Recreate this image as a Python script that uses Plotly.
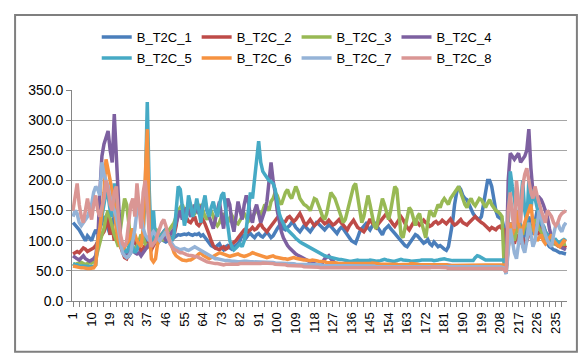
import plotly.graph_objects as go

categories = list(range(1, 241))
tick_labels = list(range(1, 241, 9))

s1 = [130,125,122,118,112,105,100,108,104,100,
      110,118,112,120,130,140,135,120,110,128,
      140,125,110,100,90,82,78,75,80,95,
      100,92,88,95,100,105,98,95,100,102,
      98,100,105,102,100,98,100,104,106,105,
      108,110,109,110,111,110,112,110,109,111,
      110,112,108,110,105,100,95,92,90,88,
      92,95,88,85,90,92,88,86,90,92,
      95,100,110,108,105,110,112,108,105,110,
      112,108,106,110,114,110,105,108,115,120,
      125,128,120,118,122,125,130,128,122,118,
      115,120,125,122,118,115,120,126,130,128,
      124,120,118,122,126,124,120,115,112,118,
      122,120,116,110,105,100,98,96,105,115,
      120,125,128,122,118,124,130,126,120,115,
      110,118,122,125,120,115,112,108,104,100,
      95,92,90,95,100,105,110,108,104,100,
      96,98,102,95,92,98,94,90,92,88,
      86,84,90,110,130,160,180,190,185,175,
      170,168,160,150,145,140,138,135,140,160,
      185,200,200,190,170,150,140,138,135,120,
      55,100,130,120,110,130,150,120,100,110,
      130,140,120,110,130,150,140,120,110,100,
      95,90,88,85,84,82,80,80,79,78]

s2 = [78,80,82,80,84,88,86,82,84,86,
      88,92,100,105,110,115,125,140,110,125,
      100,115,100,90,80,72,70,78,88,95,
      100,95,88,82,88,92,95,90,85,92,
      98,102,106,110,115,112,108,104,100,110,
      125,150,145,140,135,138,132,130,135,140,
      128,125,130,135,128,120,110,100,92,88,
      86,85,88,90,86,88,92,95,98,100,
      105,110,115,118,120,115,118,122,118,120,
      125,128,122,118,115,120,125,130,135,138,
      140,135,130,132,138,140,136,132,135,140,
      145,138,130,126,130,135,130,125,128,132,
      136,132,128,130,134,130,126,128,132,135,
      130,126,120,118,125,130,134,128,122,120,
      118,115,120,128,136,130,125,122,128,132,
      136,140,145,138,132,128,124,130,136,140,
      135,128,122,118,125,132,136,130,126,130,
      134,130,128,124,126,130,132,128,130,134,
      130,128,132,136,130,126,128,132,135,130,
      128,126,130,134,138,140,136,132,130,128,
      124,120,118,122,120,118,122,124,120,118,
      55,90,110,100,95,110,100,95,105,90,
      100,110,120,125,120,115,110,120,125,115,
      110,108,105,100,98,95,92,90,92,88]

s3 = [62,60,62,63,64,62,60,62,64,63,
      65,70,85,100,110,120,140,150,135,120,
      110,100,90,120,150,170,160,130,100,90,
      85,90,100,110,105,95,90,95,100,110,
      120,115,110,105,100,110,115,120,125,130,
      140,150,155,160,150,145,155,160,150,145,
      150,155,160,150,140,135,145,150,140,130,
      125,130,140,145,135,130,138,142,136,130,
      128,135,140,145,138,132,135,140,145,150,
      148,142,150,160,155,150,165,170,180,175,
      165,160,170,180,185,175,170,180,190,182,
      170,165,160,158,155,150,160,170,168,160,
      150,140,135,145,165,180,175,170,160,150,
      140,130,135,150,165,180,190,195,170,145,
      130,140,160,175,160,140,125,120,135,155,
      170,160,145,135,150,175,190,185,150,110,
      105,120,140,155,150,135,125,140,145,130,
      115,105,130,150,145,140,150,160,155,165,
      170,165,160,170,175,180,185,190,180,170,
      160,155,165,170,162,158,165,170,168,160,
      155,162,168,160,155,150,148,145,140,60,
      55,100,120,110,100,115,130,120,110,125,
      130,120,115,125,135,130,120,115,110,105,
      100,98,96,95,94,92,95,96,94,95]

s4 = [75,72,70,68,72,75,70,68,66,68,
      70,75,100,180,240,260,270,282,250,230,
      310,240,150,100,85,82,80,85,90,85,
      80,78,80,75,80,85,90,95,100,95,
      100,95,100,105,110,100,105,110,115,120,
      130,140,150,135,145,155,150,140,145,160,
      150,145,155,160,165,150,140,130,120,135,
      150,165,140,120,150,170,160,130,115,140,
      165,150,135,160,175,165,140,130,150,160,
      145,130,140,150,165,200,230,200,180,150,
      130,115,105,98,92,88,84,80,78,76,
      74,72,70,68,66,64,63,62,61,60,
      62,64,70,72,75,70,66,63,61,60,
      60,59,59,58,58,59,60,59,58,58,
      58,59,59,60,60,59,58,58,59,60,
      60,60,59,59,58,58,59,59,60,60,
      60,59,58,58,59,59,60,60,59,59,
      58,58,59,59,59,58,58,58,59,59,
      60,60,59,59,58,58,58,58,59,59,
      59,58,58,58,58,59,59,58,58,58,
      58,58,58,58,58,57,57,57,57,56,
      50,200,245,240,235,240,245,230,235,240,
      250,285,220,180,175,170,172,168,160,150,
      140,120,105,100,95,92,90,88,86,85]

s5 = [62,60,60,58,58,58,58,58,58,57,
      57,60,100,120,140,160,180,175,150,140,
      195,150,120,100,90,85,80,90,100,90,
      80,85,95,100,110,180,330,180,90,150,
      100,95,105,110,115,120,110,105,100,110,
      160,190,185,150,125,140,175,160,140,150,
      170,150,130,160,175,150,140,155,165,150,
      140,160,175,180,150,120,100,90,85,88,
      92,95,90,100,120,150,180,170,200,240,
      265,230,215,210,205,200,198,195,185,160,
      145,135,128,122,118,115,112,108,104,100,
      98,96,94,92,90,88,86,84,82,80,
      78,76,75,74,73,72,71,70,70,69,
      69,68,68,67,66,66,67,68,68,67,
      67,66,66,67,68,68,67,66,66,67,
      68,69,68,67,67,66,66,67,68,69,
      68,68,67,67,66,66,66,67,67,68,
      68,69,69,68,68,67,67,68,69,70,
      70,69,68,68,67,67,67,66,66,67,
      67,66,66,67,67,72,75,74,72,70,
      68,68,68,68,68,68,68,68,68,68,
      45,130,215,190,170,140,120,160,200,150,
      130,200,150,185,170,150,140,130,125,115,
      110,105,100,100,102,98,96,100,102,100]

s6 = [58,57,56,55,55,55,54,54,54,54,
      55,60,100,120,150,180,235,220,200,180,
      160,120,100,90,85,90,95,100,110,120,
      110,100,95,90,120,220,285,120,70,65,
      70,95,100,105,110,115,110,100,90,80,
      75,72,70,68,67,67,68,68,70,72,
      75,78,80,76,74,72,70,72,74,76,
      78,80,79,78,76,75,74,75,76,77,
      78,76,75,74,75,76,78,80,79,78,
      77,76,75,74,72,73,74,75,73,72,
      72,71,70,70,69,70,71,72,71,70,
      70,69,68,68,67,67,68,68,67,66,
      66,65,65,64,64,64,63,63,63,62,
      62,62,62,61,61,62,62,62,61,61,
      61,61,62,62,62,63,63,62,62,61,
      61,61,61,62,62,62,61,61,60,60,
      60,61,61,61,62,62,61,61,60,60,
      60,60,61,61,61,60,60,60,60,60,
      60,60,59,59,60,60,60,59,59,59,
      59,59,60,60,60,59,59,59,60,60,
      60,60,60,59,59,59,59,59,59,60,
      50,100,130,110,120,150,130,100,120,130,
      140,150,160,130,110,100,105,110,100,95,
      100,105,110,100,95,92,90,95,100,98]

s7 = [140,150,145,130,125,130,135,140,150,160,
      180,190,185,175,230,210,200,190,170,160,
      150,140,120,100,80,75,72,75,80,100,
      120,150,160,140,120,110,105,100,110,115,
      110,105,100,105,110,115,105,100,95,90,
      88,86,85,86,87,85,84,86,88,90,
      88,86,85,82,80,78,76,74,72,70,
      70,69,68,68,67,67,66,66,66,65,
      65,65,66,66,66,65,65,65,65,64,
      64,64,64,64,65,65,64,64,63,63,
      63,63,63,62,62,62,62,62,61,61,
      61,61,61,61,60,60,60,60,60,60,
      60,59,59,59,59,59,59,59,59,58,
      58,58,58,58,58,58,58,58,58,58,
      58,58,58,58,58,58,58,57,57,57,
      57,57,57,57,57,57,57,57,57,57,
      57,57,57,57,57,57,57,57,57,57,
      57,57,57,57,57,57,57,57,57,57,
      58,58,58,58,58,58,58,58,58,58,
      58,58,58,58,58,58,58,58,58,57,
      57,57,57,57,57,57,57,57,56,55,
      45,80,120,100,80,70,100,120,90,80,
      100,130,110,90,100,130,150,140,120,110,
      100,95,90,110,125,130,120,115,125,130]

s8 = [150,170,195,160,140,130,150,170,150,135,
      160,175,150,140,155,170,200,185,160,150,
      180,190,140,110,95,90,100,130,160,170,
      140,195,150,120,180,200,160,110,90,95,
      100,110,120,130,135,125,110,95,90,85,
      84,82,80,80,78,77,76,76,75,74,
      74,72,70,68,66,65,64,63,62,62,
      62,61,60,60,61,61,60,60,61,61,
      61,62,62,62,61,61,61,62,62,62,
      62,62,63,63,62,62,62,62,61,61,
      61,60,60,60,59,59,59,59,58,58,
      58,58,57,57,57,56,56,56,56,56,
      55,55,55,55,55,54,54,54,54,54,
      55,55,55,55,55,55,55,55,55,55,
      55,55,55,55,55,55,55,55,55,55,
      55,55,55,55,55,55,55,55,55,55,
      55,55,55,55,55,55,55,55,55,55,
      55,55,55,55,56,56,56,56,56,56,
      55,55,54,54,54,54,54,54,54,54,
      54,54,54,54,54,54,54,55,55,55,
      55,55,55,55,55,55,55,54,54,52,
      48,150,180,140,120,200,160,130,190,210,
      220,195,180,170,190,175,160,150,140,130,
      150,145,140,130,125,130,140,145,148,150]

series_names = ["B_T2C_1", "B_T2C_2", "B_T2C_3", "B_T2C_4",
                "B_T2C_5", "B_T2C_6", "B_T2C_7", "B_T2C_8"]
series_values = [s1, s2, s3, s4, s5, s6, s7, s8]
colors = ["#4A7EBB", "#BE4B48", "#98B954", "#7D60A0",
          "#46AAC5", "#F69240", "#95B3D7", "#DA9694"]

fig = go.Figure()

for k, (name, vals, col) in enumerate(zip(series_names, series_values, colors)):
    fig.add_trace(go.Scatter(
        x=categories, y=vals, mode="lines", name=name,
        line=dict(color=col, width=3.5),
        legend="legend" if k < 4 else "legend2",
    ))

font = dict(family="Liberation Sans, Arial, sans-serif", size=13, color="#000000")
frame_color = "#7F7F7F"

fig.update_layout(
    width=580, height=353,
    margin=dict(l=64, r=21, t=82, b=60, autoexpand=False),
    paper_bgcolor="white", plot_bgcolor="white",
    font=font,
    showlegend=True,
    legend=dict(orientation="h", x=0.454, xanchor="center", y=1.251, yanchor="middle",
                font=font, bgcolor="rgba(0,0,0,0)", traceorder="normal"),
    legend2=dict(orientation="h", x=0.454, xanchor="center", y=1.152, yanchor="middle",
                 font=font, bgcolor="rgba(0,0,0,0)", traceorder="normal"),
    xaxis=dict(
        range=[0.5, 240.5], tickmode="array", tickvals=tick_labels,
        ticktext=[str(t) for t in tick_labels], tickangle=-90,
        showgrid=False, zeroline=False, showline=True, linecolor="#868686", linewidth=1,
        ticks="outside", ticklen=5, tickcolor="#868686",
        minor=dict(ticks="outside", tickmode="linear", tick0=1, dtick=3, ticklen=5,
                   tickcolor="#868686", showgrid=False),
        tickfont=dict(family="Liberation Sans, Arial, sans-serif", size=13, color="#000000"),
        fixedrange=True,
    ),
    yaxis=dict(
        range=[0, 350], tickmode="linear", tick0=0, dtick=50, tickformat=".1f",
        showgrid=True, gridcolor="#A6A6A6", gridwidth=1, zeroline=False,
        showline=True, linecolor="#868686", linewidth=1,
        ticks="outside", ticklen=5, tickcolor="#868686",
        tickfont=dict(family="Liberation Sans, Arial, sans-serif", size=14, color="#000000"),
        fixedrange=True,
    ),
    shapes=[dict(type="rect", xref="paper", yref="paper",
                 x0=-0.115, x1=1.02, y0=-0.24, y1=1.355,
                 line=dict(color=frame_color, width=2),
                 fillcolor="rgba(0,0,0,0)", layer="above")],
)

fig.write_html("out.html")
